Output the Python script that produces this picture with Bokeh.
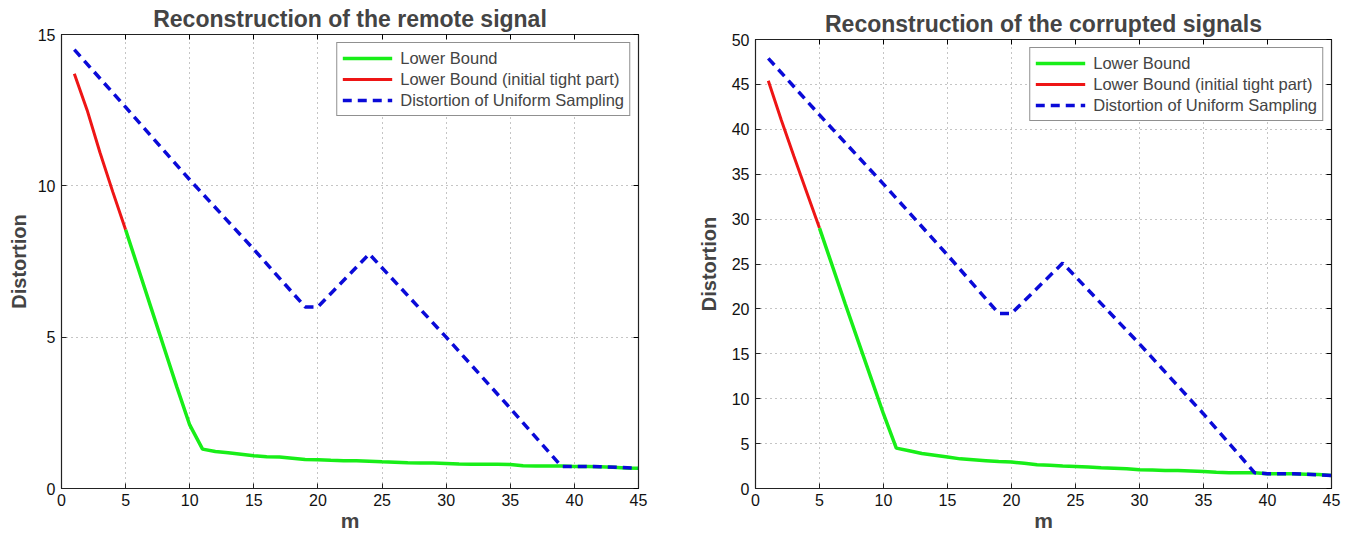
from bokeh.plotting import figure
from bokeh.layouts import row, column
from bokeh.models import FixedTicker, LinearAxis, Range1d, Legend, LegendItem, Spacer
from bokeh.embed import file_html
from bokeh.resources import INLINE

# ---------------- data ----------------
m_tight = [1, 2, 3, 4, 5]
m_bound = list(range(5, 46))

remote_tight = [13.7, 12.5, 11.1, 9.8, 8.55]
remote_bound = [8.55, 7.25, 5.95, 4.65, 3.35, 2.1, 1.3, 1.22, 1.18, 1.13, 1.08,
                1.05, 1.04, 1.0, 0.96, 0.95, 0.93, 0.92, 0.92, 0.9, 0.88,
                0.87, 0.85, 0.84, 0.84, 0.83, 0.81, 0.8, 0.8, 0.8, 0.79,
                0.75, 0.74, 0.74, 0.74, 0.73, 0.73, 0.72, 0.7, 0.68, 0.67]
m_uniform = [1, 5, 10, 15, 19, 20, 24, 30, 35, 39, 40, 42, 45]
remote_uniform = [14.5, 12.6, 10.2, 7.9, 6.0, 6.0, 7.75, 5.0, 2.65, 0.73, 0.73, 0.72, 0.67]

corr_tight = [45.4, 41.1, 37.0, 33.0, 29.0]
corr_bound = [29.0, 24.8, 20.6, 16.5, 12.4, 8.3, 4.5, 4.2, 3.9, 3.7, 3.5,
              3.3, 3.2, 3.1, 3.0, 2.95, 2.8, 2.65, 2.6, 2.5, 2.45,
              2.4, 2.3, 2.25, 2.2, 2.1, 2.05, 2.0, 2.0, 1.95, 1.9,
              1.8, 1.75, 1.75, 1.75, 1.65, 1.65, 1.65, 1.6, 1.55, 1.45]
corr_uniform = [47.9, 41.6, 33.9, 26.0, 19.5, 19.5, 25.1, 16.1, 8.3, 1.75, 1.65, 1.65, 1.45]

titles = ["Reconstruction of the remote signal", "Reconstruction of the corrupted signals"]
legend_labels = ["Lower Bound", "Lower Bound (initial tight part)", "Distortion of Uniform Sampling"]
x_ticks = [0, 5, 10, 15, 20, 25, 30, 35, 40, 45]
y_ticks_remote = [0, 5, 10, 15]
y_ticks_corr = [0, 5, 10, 15, 20, 25, 30, 35, 40, 45, 50]

FONT = "Liberation Sans"
GREEN = "#18ee18"
RED = "#ee1515"
BLUE = "#0a0ad8"


def make_plot(title, tight, bound, uniform, ymax, yticks, fw, fh, bl, br, bt, bb, ylab_standoff):
    p = figure(frame_width=fw, frame_height=fh, x_range=Range1d(0, 45), y_range=Range1d(0, ymax),
               output_backend="svg", toolbar_location=None,
               min_border_left=bl, min_border_right=br, min_border_top=bt, min_border_bottom=bb)
    p.title.text = title
    p.title.text_font = FONT
    p.title.text_font_size = "23px"
    p.title.text_font_style = "bold"
    p.title.align = "center"
    p.title.standoff = 6
    p.outline_line_color = "#222222"
    p.outline_line_width = 1.2

    for ax, ticks in ((p.xaxis[0], x_ticks), (p.yaxis[0], yticks)):
        ax.ticker = FixedTicker(ticks=ticks)
        ax.major_tick_in = 5
        ax.major_tick_out = 0
        ax.minor_tick_line_color = None
        ax.major_label_text_font = FONT
        ax.major_label_text_font_size = "16px"
        ax.major_label_text_color = "#111111"
        ax.axis_label_text_font = FONT
        ax.axis_label_text_font_style = "bold"
        ax.axis_line_color = "#222222"
        ax.major_tick_line_color = "#222222"
    p.xaxis.axis_label = "m"
    p.xaxis.axis_label_text_font_size = "21px"
    p.xaxis.major_label_standoff = 5
    p.xaxis.axis_label_standoff = 0
    p.yaxis.axis_label = "Distortion"
    p.yaxis.axis_label_text_font_size = "20px"
    p.yaxis.major_label_standoff = 6
    p.yaxis.axis_label_standoff = ylab_standoff

    # tick marks on top and right (MATLAB style box), without labels
    top = LinearAxis(ticker=FixedTicker(ticks=x_ticks), major_tick_in=5, major_tick_out=0,
                     minor_tick_line_color=None, major_label_text_font_size="0px",
                     major_label_text_color=None,
                     major_label_standoff=0, axis_line_color="#222222")
    right = LinearAxis(ticker=FixedTicker(ticks=yticks), major_tick_in=5, major_tick_out=0,
                       minor_tick_line_color=None, major_label_text_font_size="0px",
                       major_label_text_color=None,
                       major_label_standoff=0, axis_line_color="#222222")
    p.add_layout(top, "above")
    p.add_layout(right, "right")

    for g in (p.xgrid[0], p.ygrid[0]):
        g.grid_line_color = "#8a8a8a"
        g.grid_line_dash = "1 4"
        g.grid_line_width = 1
    p.xgrid.ticker = FixedTicker(ticks=x_ticks)
    p.ygrid.ticker = FixedTicker(ticks=yticks)

    r_red = p.line(m_tight, tight, line_color=RED, line_width=3)
    r_green = p.line(m_bound, bound, line_color=GREEN, line_width=3.5)
    r_blue = p.line(m_uniform, uniform, line_color=BLUE, line_width=3.5, line_dash="9 6")

    legend = Legend(items=[LegendItem(label=legend_labels[0], renderers=[r_green]),
                           LegendItem(label=legend_labels[1], renderers=[r_red]),
                           LegendItem(label=legend_labels[2], renderers=[r_blue])],
                    location="top_right")
    legend.margin = 8
    legend.padding = 5
    legend.spacing = 1
    legend.glyph_width = 50
    legend.glyph_height = 20
    legend.label_height = 20
    legend.label_standoff = 8
    legend.label_text_font = FONT
    legend.label_text_font_size = "16.5px"
    legend.border_line_color = "#222222"
    legend.border_line_width = 1.2
    legend.background_fill_alpha = 1.0
    p.add_layout(legend, "center")
    return p


p1 = make_plot(titles[0], remote_tight, remote_bound, remote_uniform, 15, y_ticks_remote,
               577, 454, 61, 43, 33, 44, 5)
p2 = make_plot(titles[1], corr_tight, corr_bound, corr_uniform, 50, y_ticks_corr,
               576, 449, 74, 20, 33, 44, 9)

layout = row(p1, column(Spacer(width=10, height=5), p2))
open("out.html", "w").write(file_html(layout, INLINE))
